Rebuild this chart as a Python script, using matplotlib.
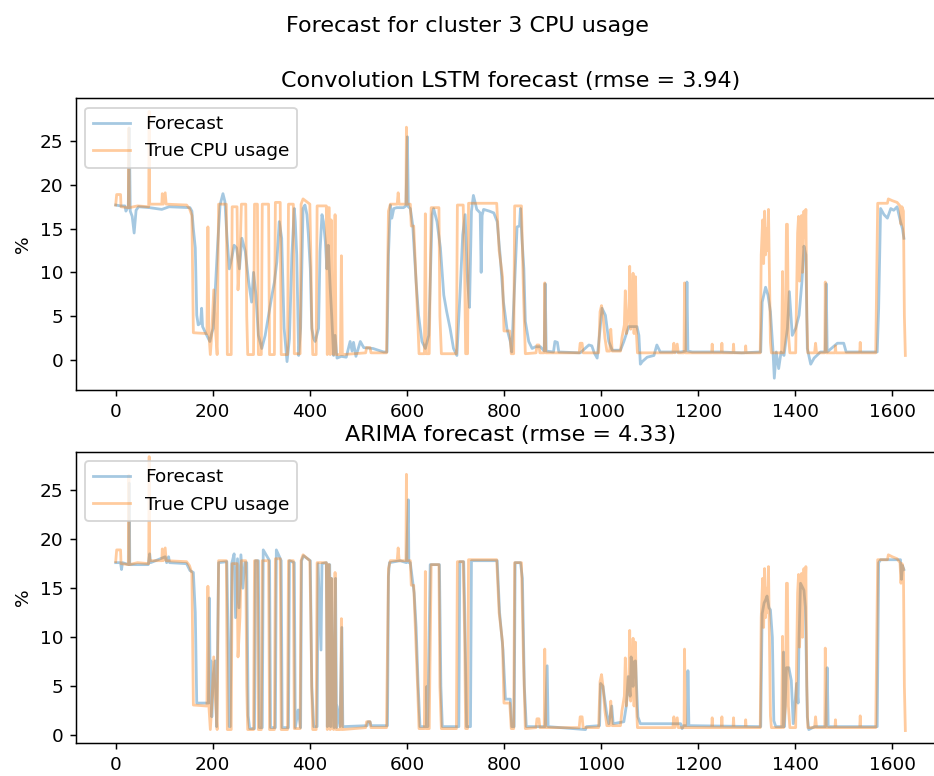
import matplotlib
matplotlib.use("Agg")
import matplotlib.pyplot as plt

# --- True CPU usage of cluster 3 (time step, %) ---
true_t = [0, 2, 10, 11, 26, 27, 28, 45, 68, 69, 70, 95, 96, 98, 102, 104, 146, 152, 157, 160,
          188, 190, 192, 195, 198, 202, 205, 209, 212, 228, 230, 238, 240, 250, 252, 256, 259, 268,
          270, 272, 284, 286, 292, 294, 300, 302, 315, 317, 327, 329, 339, 341, 354, 356, 366, 368,
          380, 382, 386, 400, 402, 404, 406, 413, 415, 434, 436, 438, 440, 442, 444, 446, 449, 452,
          454, 463, 465, 467, 490, 515, 517, 524, 526, 558, 562, 566, 580, 582, 584, 598, 599, 600,
          607, 609, 614, 617, 622, 625, 636, 638, 640, 646, 650, 666, 668, 671, 702, 704, 716, 719,
          721, 725, 727, 785, 790, 797, 800, 812, 815, 820, 822, 836, 840, 844, 866, 868, 872, 874,
          883, 884, 886, 955, 957, 961, 963, 995, 998, 1001, 1004, 1008, 1012, 1018, 1020, 1023,
          1040, 1043, 1048, 1050, 1052, 1056, 1058, 1059, 1061, 1064, 1066, 1068, 1071, 1073, 1075,
          1148, 1150, 1152, 1157, 1159, 1171, 1172, 1174, 1228, 1229, 1230, 1248, 1249, 1250, 1272,
          1273, 1274, 1297, 1298, 1299, 1328, 1330, 1333, 1335, 1337, 1339, 1341, 1343, 1345, 1347,
          1349, 1351, 1372, 1374, 1376, 1380, 1382, 1384, 1386, 1389, 1401, 1403, 1405, 1407, 1409,
          1411, 1413, 1415, 1418, 1420, 1422, 1424, 1426, 1440, 1442, 1444, 1461, 1462, 1464, 1482,
          1483, 1484, 1533, 1534, 1535, 1566, 1570, 1590, 1592, 1600, 1610, 1616, 1618, 1620, 1623,
          1625, 1627]
true_v = [17.7, 18.9, 18.9, 17.5, 17.4, 26.5, 17.4, 17.6, 17.5, 28.4, 17.8, 17.8, 19.0, 17.8, 19.1, 17.8, 17.7, 17.3, 16.5, 3.1,
          3.0, 15.2, 3.0, 0.6, 3.0, 8.0, 4.0, 0.6, 17.8, 17.8, 0.6, 0.6, 17.5, 17.5, 8.0, 12.0, 17.8, 17.8,
          5.0, 0.6, 0.6, 17.8, 17.8, 0.6, 0.6, 17.8, 17.8, 0.6, 0.6, 18.0, 18.0, 0.6, 0.6, 17.8, 17.8, 0.7,
          0.7, 17.8, 18.4, 17.8, 12.0, 4.5, 0.6, 0.6, 17.6, 17.6, 0.6, 17.4, 17.4, 0.6, 16.0, 3.0, 0.6, 16.6,
          0.6, 0.6, 11.9, 0.6, 0.7, 0.8, 1.4, 1.4, 0.8, 0.8, 17.0, 17.8, 17.8, 19.1, 17.8, 17.8, 26.6, 17.8,
          17.8, 15.3, 15.3, 11.5, 5.0, 0.7, 0.7, 16.7, 0.7, 0.7, 17.4, 17.4, 5.0, 0.7, 0.7, 17.7, 17.7, 10.0,
          0.7, 0.7, 17.9, 17.9, 12.5, 9.5, 3.3, 3.3, 0.7, 0.7, 17.6, 17.6, 8.0, 0.7, 0.8, 1.7, 1.7, 0.8,
          0.8, 8.8, 0.8, 0.8, 1.9, 1.9, 0.8, 0.8, 5.5, 6.2, 5.0, 2.5, 1.0, 1.0, 3.5, 1.0,
          1.0, 2.5, 4.0, 7.9, 3.0, 5.0, 7.0, 10.7, 3.5, 5.0, 9.9, 3.0, 9.5, 3.0, 0.8,
          0.8, 1.9, 0.8, 1.8, 0.8, 0.8, 8.8, 0.8, 0.8, 1.8, 0.8, 0.8, 1.9, 0.8, 0.8,
          1.8, 0.8, 0.8, 1.6, 0.8, 0.8, 12.0, 16.0, 11.0, 17.0, 12.0, 15.0, 12.5, 17.2, 10.0,
          2.0, 0.8, 0.8, 10.1, 0.8, 3.0, 15.5, 15.5, 3.0, 0.8, 0.8, 8.0, 14.5, 16.4, 9.0,
          12.0, 16.5, 10.0, 17.0, 14.0, 17.2, 5.0, 0.8, 0.8, 1.9, 0.8, 0.8, 8.9, 0.8, 0.8,
          1.6, 0.8, 0.8, 2.0, 0.8, 0.8, 17.9, 17.9, 18.4, 18.2, 18.0, 17.6, 15.5, 17.5, 17.0,
          5.0, 0.5]

# --- Convolution LSTM forecast ---
lstm_t = [0, 10, 19, 21, 26, 28, 30, 34, 38, 42, 47, 70, 95, 110, 153, 157, 160, 164, 167, 170,
          175, 177, 179, 185, 194, 198, 201, 205, 210, 215, 221, 225, 229, 234, 239, 244, 249, 255,
          260, 267, 274, 280, 284, 289, 294, 301, 308, 315, 322, 327, 332, 337, 342, 347, 353, 358,
          363, 368, 370, 373, 377, 381, 386, 390, 394, 397, 401, 404, 408, 411, 418, 421, 425, 428,
          432, 435, 438, 442, 445, 449, 452, 456, 465, 475, 483, 487, 490, 495, 504, 507, 511, 530,
          552, 559, 562, 566, 569, 573, 579, 593, 598, 601, 603, 607, 612, 619, 624, 631, 638, 645,
          652, 655, 662, 669, 676, 682, 689, 696, 703, 710, 715, 720, 725, 729, 733, 737, 744, 751,
          753, 755, 758, 770, 779, 786, 792, 799, 806, 813, 816, 823, 827, 832, 834, 837, 841, 844,
          851, 858, 865, 875, 883, 885, 887, 902, 905, 910, 913, 957, 975, 981, 986, 992, 998, 1002,
          1009, 1016, 1023, 1040, 1047, 1057, 1074, 1078, 1081, 1085, 1095, 1109, 1115, 1122, 1164,
          1175, 1177, 1179, 1188, 1246, 1290, 1329, 1332, 1339, 1344, 1349, 1354, 1357, 1361, 1366,
          1371, 1377, 1384, 1388, 1394, 1401, 1408, 1414, 1418, 1422, 1425, 1432, 1439, 1452, 1462,
          1464, 1466, 1487, 1500, 1505, 1569, 1572, 1576, 1583, 1590, 1597, 1603, 1610, 1617, 1621,
          1624]
lstm_v = [17.7, 17.6, 17.6, 17.0, 17.5, 26.5, 17.0, 16.4, 14.5, 17.1, 17.5, 17.4, 17.2, 17.5, 17.4, 17.0, 15.0, 12.8, 5.1, 4.0,
          4.2, 5.9, 3.8, 3.1, 2.1, 3.1, 3.6, 7.8, 13.1, 17.7, 19.0, 18.1, 14.3, 10.4, 11.6, 13.1, 12.8, 10.4,
          13.9, 12.4, 8.9, 6.6, 10.0, 7.4, 2.8, 1.3, 2.8, 5.1, 7.4, 8.9, 11.2, 15.8, 13.9, 3.6, -0.2, 2.4,
          12.0, 17.3, 15.8, 12.0, 0.5, 3.6, 17.3, 17.7, 16.6, 14.3, 10.4, 3.6, 2.4, 2.1, 3.6, 12.4, 16.6, 15.8,
          13.5, 10.4, 13.1, 8.2, 5.1, 0.5, 2.8, 0.2, 0.4, 0.3, 2.1, 1.0, 2.0, 0.4, 2.1, 1.8, 1.4, 1.3,
          0.9, 0.9, 12.0, 17.7, 16.2, 17.3, 17.4, 17.4, 17.6, 25.5, 17.5, 17.3, 15.4, 8.9, 5.1, 2.1, 1.3, 2.8,
          16.6, 17.3, 15.8, 12.8, 7.4, 5.5, 3.6, 1.3, 0.5, 8.2, 14.3, 16.6, 9.0, 6.0, 17.0, 18.8, 17.2, 16.8,
          10.0, 16.5, 17.2, 17.0, 16.8, 15.8, 12.0, 6.6, 3.6, 2.1, 0.9, 10.0, 15.2, 15.3, 17.3, 13.9, 10.4, 4.4,
          2.1, 1.3, 1.5, 1.5, 1.0, 8.7, 1.0, 0.9, 2.1, 2.0, 0.9, 0.8, 1.7, 1.6, 0.8, 0.2, 3.5, 5.9,
          5.1, 2.1, 1.1, 1.1, 2.1, 3.8, 3.8, 2.8, -0.5, -0.2, 0.3, 0.5, 1.7, 0.9, 0.9,
          1.0, 8.9, 1.0, 0.9, 0.9, 0.8, 0.9, 6.6, 8.3, 7.4, 5.5, 1.3, -2.1, 0.9, -1.0,
          0.9, 0.5, 3.6, 7.8, 2.8, 3.6, 5.1, 9.0, 13.0, 12.0, 1.3, -0.5, 0.2, 0.9, 0.9,
          8.7, 0.9, 1.9, 1.9, 0.9, 0.9, 5.9, 17.3, 16.6, 16.2, 17.3, 17.1, 17.5, 15.8, 15.0,
          13.9]

# --- ARIMA forecast ---
arima_t = [0, 10, 12, 14, 27, 28, 29, 67, 70, 72, 102, 105, 109, 111, 146, 153, 160, 164, 167, 191,
           193, 195, 196, 198, 201, 205, 208, 212, 229, 232, 234, 236, 239, 244, 247, 251, 254, 258,
           262, 266, 270, 273, 276, 286, 288, 294, 296, 302, 304, 317, 319, 329, 331, 341, 343, 356,
           358, 368, 370, 376, 381, 383, 387, 401, 404, 408, 415, 417, 423, 425, 434, 436, 439, 441,
           443, 445, 447, 450, 453, 455, 456, 462, 466, 468, 518, 520, 524, 526, 560, 562, 564, 586,
           599, 603, 604, 607, 611, 615, 619, 623, 627, 640, 641, 643, 648, 667, 670, 673, 707, 709,
           717, 719, 723, 731, 733, 786, 791, 798, 803, 813, 816, 821, 823, 834, 838, 842, 846, 885,
           889, 891, 968, 970, 997, 999, 1004, 1008, 1012, 1016, 1022, 1025, 1047, 1052, 1056, 1060,
           1062, 1066, 1068, 1071, 1074, 1076, 1081, 1164, 1167, 1170, 1178, 1179, 1181, 1329, 1332,
           1336, 1339, 1342, 1346, 1349, 1353, 1356, 1360, 1375, 1376, 1378, 1382, 1387, 1392, 1396,
           1403, 1406, 1408, 1411, 1414, 1418, 1421, 1425, 1428, 1440, 1463, 1466, 1468, 1569, 1572,
           1576, 1600, 1617, 1619, 1621, 1624]
arima_v = [17.6, 17.6, 16.9, 17.6, 17.4, 25.7, 17.4, 17.4, 18.5, 17.6, 18.2, 17.6, 18.2, 17.6, 17.5, 16.8, 16.6, 12.5, 3.3, 3.3,
           14.0, 3.3, 7.6, 1.9, 5.6, 7.6, 0.9, 17.6, 17.7, 8.7, 0.9, 0.9, 17.5, 18.5, 12.0, 18.0, 13.0, 18.4,
           15.0, 17.6, 17.6, 2.0, 0.7, 0.7, 17.8, 17.8, 0.8, 0.8, 18.9, 17.8, 0.8, 0.8, 18.9, 17.8, 0.8, 0.8,
           17.8, 17.6, 0.8, 2.6, 0.8, 17.8, 18.3, 17.8, 5.0, 0.9, 0.9, 17.5, 8.7, 17.5, 17.6, 0.9, 17.4, 17.4,
           0.9, 16.0, 5.3, 0.8, 16.0, 0.8, 3.0, 0.9, 11.0, 0.9, 1.0, 1.4, 1.4, 1.0, 1.0, 16.2, 17.6, 17.8,
           17.6, 24.0, 17.6, 17.6, 16.0, 14.5, 11.0, 5.3, 0.9, 0.9, 5.0, 0.9, 17.4, 17.4, 5.0, 0.9, 0.9, 17.7,
           17.7, 13.0, 0.9, 0.9, 17.8, 17.8, 12.5, 8.7, 3.7, 3.7, 0.9, 0.9, 17.6, 17.6, 16.0, 5.0, 0.9, 0.9,
           7.1, 0.9, 0.6, 0.9, 1.0, 5.3, 5.0, 3.5, 2.1, 1.2, 3.0, 1.2, 1.4, 3.0, 6.0, 4.0,
           8.0, 5.0, 7.5, 7.6, 4.0, 1.9, 1.2, 1.2, 0.7, 1.0, 1.0, 6.6, 1.0, 0.9, 12.4,
           13.5, 13.8, 14.2, 13.0, 12.8, 10.0, 1.5, 0.9, 0.9, 8.5, 0.9, 6.9, 6.9, 5.6, 1.2,
           5.3, 3.3, 10.0, 15.5, 15.2, 14.8, 13.1, 1.9, 0.6, 0.9, 0.9, 6.9, 0.9, 0.9, 17.6,
           17.9, 17.9, 17.9, 15.9, 17.3, 16.9]

lstm_rmse = 3.94
arima_rmse = 4.33

DPI = 133.4
fig = plt.figure(figsize=(934 / DPI, 776 / DPI), dpi=DPI)
fig.suptitle("Forecast for cluster 3 CPU usage", fontsize=12)

ax_lstm = fig.add_axes([0.0816, 0.4974, 0.930, 0.3759])
ax_arima = fig.add_axes([0.0816, 0.0421, 0.930, 0.3758])

panels = [
    (ax_lstm, lstm_t, lstm_v, f"Convolution LSTM forecast (rmse = {lstm_rmse})", (-3.45, 29.9)),
    (ax_arima, arima_t, arima_v, f"ARIMA forecast (rmse = {arima_rmse})", (-0.8, 28.9)),
]

for ax, ft, fv, title, ylim in panels:
    ax.plot(ft, fv, color="tab:blue", alpha=0.4, lw=1.5, label="Forecast")
    ax.plot(true_t, true_v, color="tab:orange", alpha=0.4, lw=1.5, label="True CPU usage")
    ax.set_title(title, fontsize=12)
    ax.set_ylabel("%")
    ax.set_ylim(*ylim)
    ax.set_xticks(range(0, 1601, 200))
    ax.set_yticks(range(0, 26, 5))
    ax.legend(loc="upper left")

fig.savefig("out.png", dpi=DPI)
